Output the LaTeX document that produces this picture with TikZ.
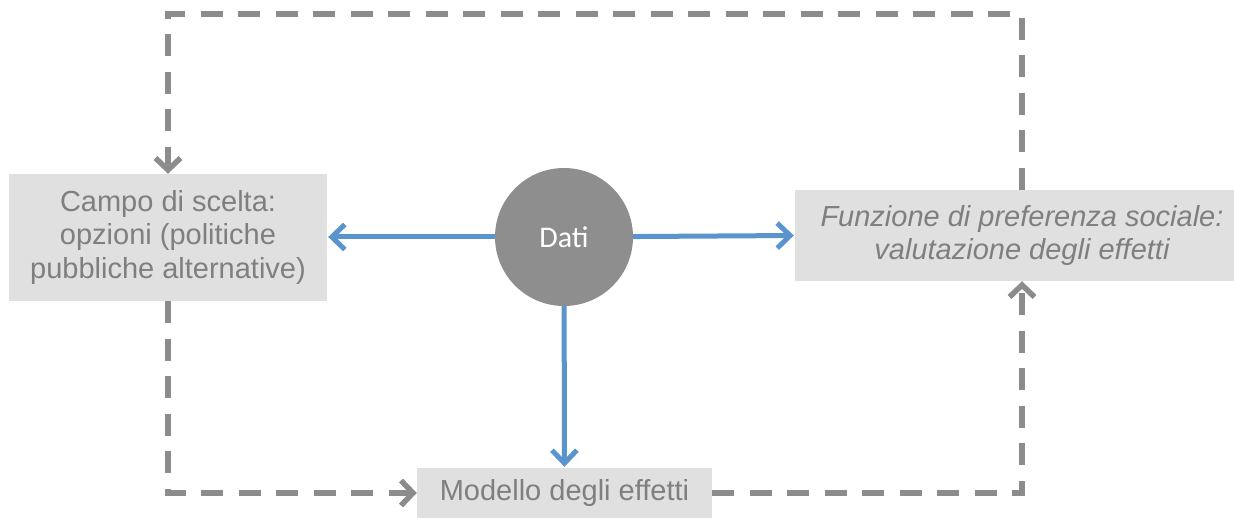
\documentclass[tikz,border=0pt]{standalone}
\usepackage{fontspec}
\setmainfont{Liberation Sans}
\newfontfamily\datifont{Carlito}
\usetikzlibrary{arrows.meta}
\definecolor{boxfill}{HTML}{E0E0E0}
\definecolor{txtgray}{HTML}{7F7F7F}
\definecolor{dotgray}{HTML}{8E8E8E}
\definecolor{linegray}{HTML}{8C8C8C}
\definecolor{flowblue}{HTML}{5A94CC}
\tikzset{
  box/.style={fill=boxfill, text=txtgray, inner sep=0pt, align=center,
    font=\fontsize{29}{33.5}\selectfont},
  datum/.style={circle, fill=dotgray, text=white, minimum size=138pt, inner sep=0pt,
    font=\datifont\fontsize{30}{32}\selectfont},
  flow/.style={flowblue, line width=5pt,
    -{Straight Barb[length=13pt, width=25pt, line width=5pt]}, shorten >=1pt},
  loop/.style={linegray, line width=6.5pt, dash pattern=on 22pt off 15.5pt,
    -{Straight Barb[length=12pt, width=25pt, line width=5.5pt]}}
}
\begin{document}
\begin{tikzpicture}[x=1pt, y=-1pt]
\useasboundingbox (0,0) rectangle (1234,518);

% boxes and the data circle (the right box runs past the page edge)
\node[box, minimum width=318pt, minimum height=127pt] (campo) at (168,237.5)
  {Campo di scelta:\\opzioni (politiche\\pubbliche alternative)};
\node[box, minimum width=454pt, minimum height=91pt] (funz) at (1022,235.5)
  {\itshape Funzione di preferenza sociale:\\\itshape valutazione degli effetti};
\node[box, minimum width=295pt, minimum height=50pt] (modello) at (564.5,493)
  {Modello degli effetti};
\node[datum] (dati) at (564,237) {Dati};

% corners of the dashed feedback loop
\coordinate (tl) at (168,14);
\coordinate (tr) at (1022,14);
\coordinate (bl) at (168,493);
\coordinate (br) at (1022,493);

% data flows
\draw[flow] (dati) -- (campo.east |- dati);
\draw[flow] (dati) -- (funz.west);
\draw[flow] (dati) -- (modello);

% feedback loop
\draw[loop] (funz.north) -- (tr) -- (tl) -- (campo.north);
\draw[loop] (campo.south) -- (bl) -- (modello.west);
\draw[loop] (modello.east) -- (br) -- (funz.south);
\end{tikzpicture}
\end{document}
